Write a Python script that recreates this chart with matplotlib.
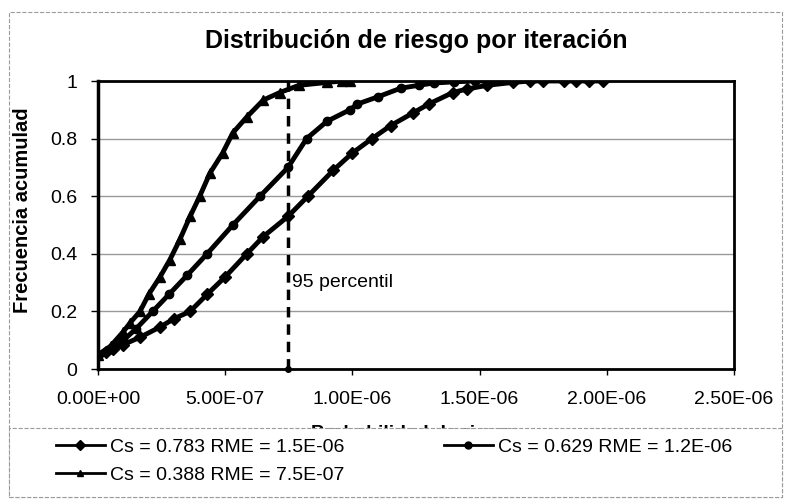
import matplotlib.pyplot as plt
from matplotlib.patches import Rectangle
from matplotlib.ticker import FuncFormatter

plt.rcParams['font.family'] = ['Liberation Sans', 'DejaVu Sans']

# Cs = 0.783, RME = 1.5E-06  (diamond, rightmost curve)
x1 = [0, 0.3, 0.6, 1.0, 1.65, 2.44, 3.0, 3.62, 4.3, 5.0, 5.85, 6.5, 7.47, 8.25, 9.25,
      10.0, 10.77, 11.5, 12.4, 13.0, 13.95, 14.5, 15.3, 16.3, 17.0, 17.5, 18.3, 18.8, 19.3, 19.85]
y1 = [0.049, 0.058, 0.07, 0.085, 0.11, 0.146, 0.175, 0.20, 0.26, 0.32, 0.40, 0.46, 0.53, 0.60, 0.69,
      0.75, 0.80, 0.845, 0.89, 0.92, 0.96, 0.972, 0.985, 0.995, 1.0, 1.0, 1.0, 1.0, 1.0, 1.0]

# Cs = 0.629, RME = 1.2E-06  (circle, middle curve)
x2 = [0, 0.5, 1.0, 1.5, 2.15, 2.8, 3.5, 4.29, 5.3, 6.37, 7.47, 8.2, 9.0, 9.9, 10.2,
      11.0, 11.9, 12.6, 13.2, 14.0, 14.8, 15.3]
y2 = [0.049, 0.07, 0.10, 0.14, 0.20, 0.26, 0.325, 0.40, 0.50, 0.60, 0.70, 0.80, 0.86, 0.90, 0.92,
      0.945, 0.975, 0.985, 0.993, 0.997, 1.0, 1.0]

# Cs = 0.388, RME = 7.5E-07  (triangle, leftmost curve)
x3 = [0, 0.5, 1.0, 1.26, 1.65, 2.0, 2.44, 2.83, 3.22, 3.62, 4.0, 4.4, 4.9, 5.3, 5.85,
      6.5, 7.15, 7.9, 9.0, 9.6, 9.9]
y3 = [0.049, 0.08, 0.13, 0.16, 0.20, 0.26, 0.32, 0.38, 0.45, 0.53, 0.60, 0.68, 0.75, 0.82, 0.875,
      0.934, 0.96, 0.985, 0.995, 1.0, 1.0]

labels = ['Cs = 0.783 RME = 1.5E-06', 'Cs = 0.629 RME = 1.2E-06', 'Cs = 0.388 RME = 7.5E-07']
p95 = 7.47e-7

fig = plt.figure(figsize=(7.88, 4.99), dpi=100)
ax = fig.add_axes([98 / 788, 1 - 369 / 499, 636 / 788, 288 / 499])

h1, = ax.plot([v * 1e-7 for v in x1], y1, '-', color='black', lw=3.5, marker='D', ms=6)
h2, = ax.plot([v * 1e-7 for v in x2], y2, '-', color='black', lw=3.5, marker='o', ms=6)
h3, = ax.plot([v * 1e-7 for v in x3], y3, '-', color='black', lw=3.5, marker='^', ms=7)

ax.plot([p95, p95], [0, 1], '--', color='black', lw=2.5, dashes=(3, 2), clip_on=False)
ax.plot([p95], [0], 'o', color='black', ms=4, clip_on=False)
ax.text(p95 + 0.15e-7, 0.30, '95 percentil', fontsize=14, va='center', ha='left')

ax.set_xlim(0, 2.5e-6)
ax.set_ylim(0, 1)
ax.set_xticks([0, 5e-7, 1e-6, 1.5e-6, 2e-6, 2.5e-6])
ax.set_yticks([0, 0.2, 0.4, 0.6, 0.8, 1])
ax.xaxis.set_major_formatter(FuncFormatter(lambda v, p: '%.2E' % v))
ax.yaxis.set_major_formatter(FuncFormatter(lambda v, p: '%g' % v))
ax.tick_params(axis='x', direction='out', length=4, width=1, pad=12, labelsize=14)
ax.tick_params(axis='y', direction='out', length=5, width=1, pad=10, labelsize=14)
ax.yaxis.grid(True, color='#9a9a9a', lw=1)
ax.set_axisbelow(True)
for s in ax.spines.values():
    s.set_linewidth(2)
ax.spines['left'].set_linewidth(2.5)

ax.set_title('Distribución de riesgo por iteración', fontsize=18, fontweight='bold', pad=24)
ax.set_ylabel('Frecuencia acumulad', fontsize=14.5, fontweight='bold')
ax.yaxis.set_label_coords(-0.104, 0.55)
ax.set_xlabel('Probabilidad de riesgo', fontsize=14, fontweight='bold', labelpad=12)

# chart area border and legend box
fig.patches.append(Rectangle((9 / 788, 2 / 499), 773 / 788, 485 / 499, transform=fig.transFigure,
                             fill=False, edgecolor='#9a9a9a', lw=0.8, ls='--'))
fig.patches.append(Rectangle((9 / 788, 2 / 499), 773 / 788, 69 / 499, transform=fig.transFigure,
                             facecolor='white', edgecolor='#9a9a9a', lw=0.8, ls='--', zorder=2))

leg = fig.legend([h1, h3, h2], [labels[0], labels[2], labels[1]], ncol=2, loc='upper left',
                 bbox_to_anchor=(56 / 788, 1 - 438 / 499), frameon=False, fontsize=14,
                 handlelength=2.5, handletextpad=0.3, columnspacing=5.1, labelspacing=0.55,
                 borderpad=0, borderaxespad=0)
for line in leg.get_lines():
    line.set_linewidth(2)
    line.set_markersize(5)

fig.savefig('out.png', dpi=100)
